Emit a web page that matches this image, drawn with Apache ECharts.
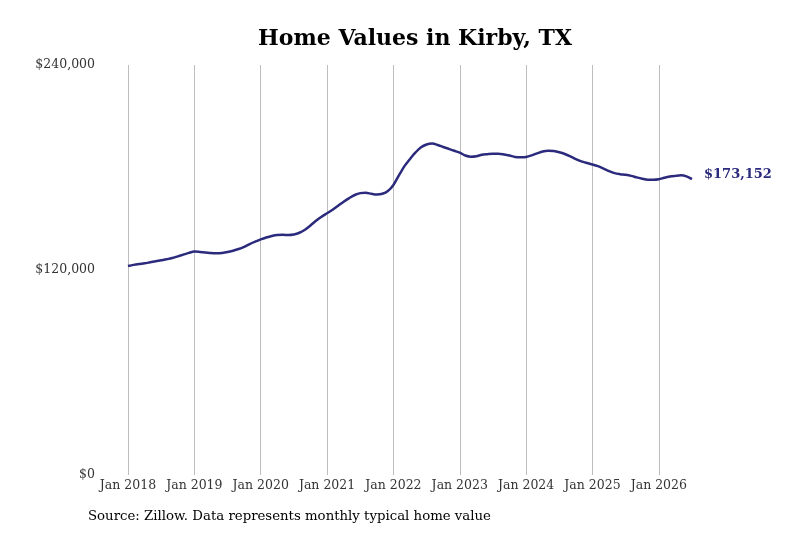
<!DOCTYPE html>
<html>
<head>
<meta charset="utf-8">
<script src="https://cdn.jsdelivr.net/npm/echarts@6/dist/echarts.min.js"></script>
<style>
    html, body { margin: 0; padding: 0; background: #fff; }
    #chart { width: 800px; height: 533px; }
</style>
</head>
<body>
<div id="chart"></div>
<script>
// monthly typical home value, Jan 2018 - Jul 2026
var years = ["2018", "2019", "2020", "2021", "2022", "2023", "2024", "2025", "2026"];
var values_2018 = [122300, 123000, 123500, 123900, 124500, 125100, 125700, 126300, 127000, 128000, 129000, 130000];
var values_2019 = [130800, 130600, 130300, 129900, 129800, 130000, 130500, 131300, 132300, 133600, 135200, 136600];
var values_2020 = [137900, 139000, 139900, 140500, 140600, 140500, 140800, 141800, 143600, 146100, 148800, 151200];
var values_2021 = [153200, 155300, 157600, 160000, 162100, 163900, 165000, 165200, 164600, 164200, 164600, 166200];
var values_2022 = [169800, 175400, 180800, 185000, 188800, 191900, 193500, 194000, 193200, 192000, 190900, 189800];
var values_2023 = [188700, 187000, 186300, 186600, 187500, 187800, 188000, 188000, 187600, 187000, 186200, 186000];
var values_2024 = [186200, 187100, 188300, 189400, 189800, 189600, 188900, 187900, 186500, 184900, 183600, 182600];
var values_2025 = [181800, 180800, 179400, 177900, 176700, 176100, 175700, 175100, 174200, 173400, 172800, 172800];
var values_2026 = [173100, 174000, 174700, 175100, 175400, 174800, 173152];
var y_ticks = [0, 120000, 240000];

var months = ["Jan", "Feb", "Mar", "Apr", "May", "Jun", "Jul", "Aug", "Sep", "Oct", "Nov", "Dec"];
var all_values = [].concat(values_2018, values_2019, values_2020, values_2021,
    values_2022, values_2023, values_2024, values_2025, values_2026);
var x_axis = [];
for (let i = 0; i < all_values.length; i++) {
    x_axis.push(months[i % 12] + " " + years[Math.floor(i / 12)]);
}

function isJan(index) {
    return index % 12 === 0;
}
function money(v) {
    return "$" + Math.round(v).toLocaleString("en-US");
}

var font = "DejaVu Serif";
var myChart = echarts.init(document.getElementById("chart"));
var option = {
    animation: false,
    title: {
        text: "Home Values in Kirby, TX",
        left: 410,
        top: 23,
        textAlign: "center",
        textStyle: {
            fontFamily: font,
            fontSize: 22,
            fontWeight: "bold",
            color: "#000",
        },
    },
    grid: {
        left: 128,
        right: 108,
        top: 65,
        bottom: 58,
    },
    xAxis: {
        type: "category",
        data: x_axis,
        boundaryGap: false,
        axisLine: { show: false },
        axisTick: { show: false },
        axisLabel: {
            interval: isJan,
            margin: 4,
            fontFamily: font,
            fontSize: 12.5,
            color: "#333",
        },
        splitLine: {
            show: true,
            interval: isJan,
            lineStyle: { color: "#bdbdbd", width: 1 },
        },
    },
    yAxis: {
        type: "value",
        min: y_ticks[0],
        max: y_ticks[y_ticks.length - 1],
        interval: y_ticks[1] - y_ticks[0],
        axisLine: { show: false },
        axisTick: { show: false },
        splitLine: { show: false },
        axisLabel: {
            margin: 33,
            padding: [3, 0, 0, 0],
            fontFamily: font,
            fontSize: 12.5,
            color: "#333",
            formatter: money,
        },
    },
    series: [
        {
            type: "line",
            data: all_values,
            smooth: 0.3,
            symbol: "none",
            lineStyle: { color: "#2b2a7c", width: 2.5 },
            endLabel: {
                show: true,
                distance: 12,
                offset: [0, -5],
                formatter: function (p) {
                    return money(p.value);
                },
                fontFamily: font,
                fontSize: 13,
                fontWeight: "bold",
                color: "#2b2a7c",
            },
        },
    ],
    graphic: [
        {
            type: "text",
            left: 88,
            top: 510,
            style: {
                text: "Source: Zillow. Data represents monthly typical home value",
                font: "13.3px " + font,
                fill: "#000",
            },
        },
    ],
};
myChart.setOption(option);
</script>
</body>
</html>
